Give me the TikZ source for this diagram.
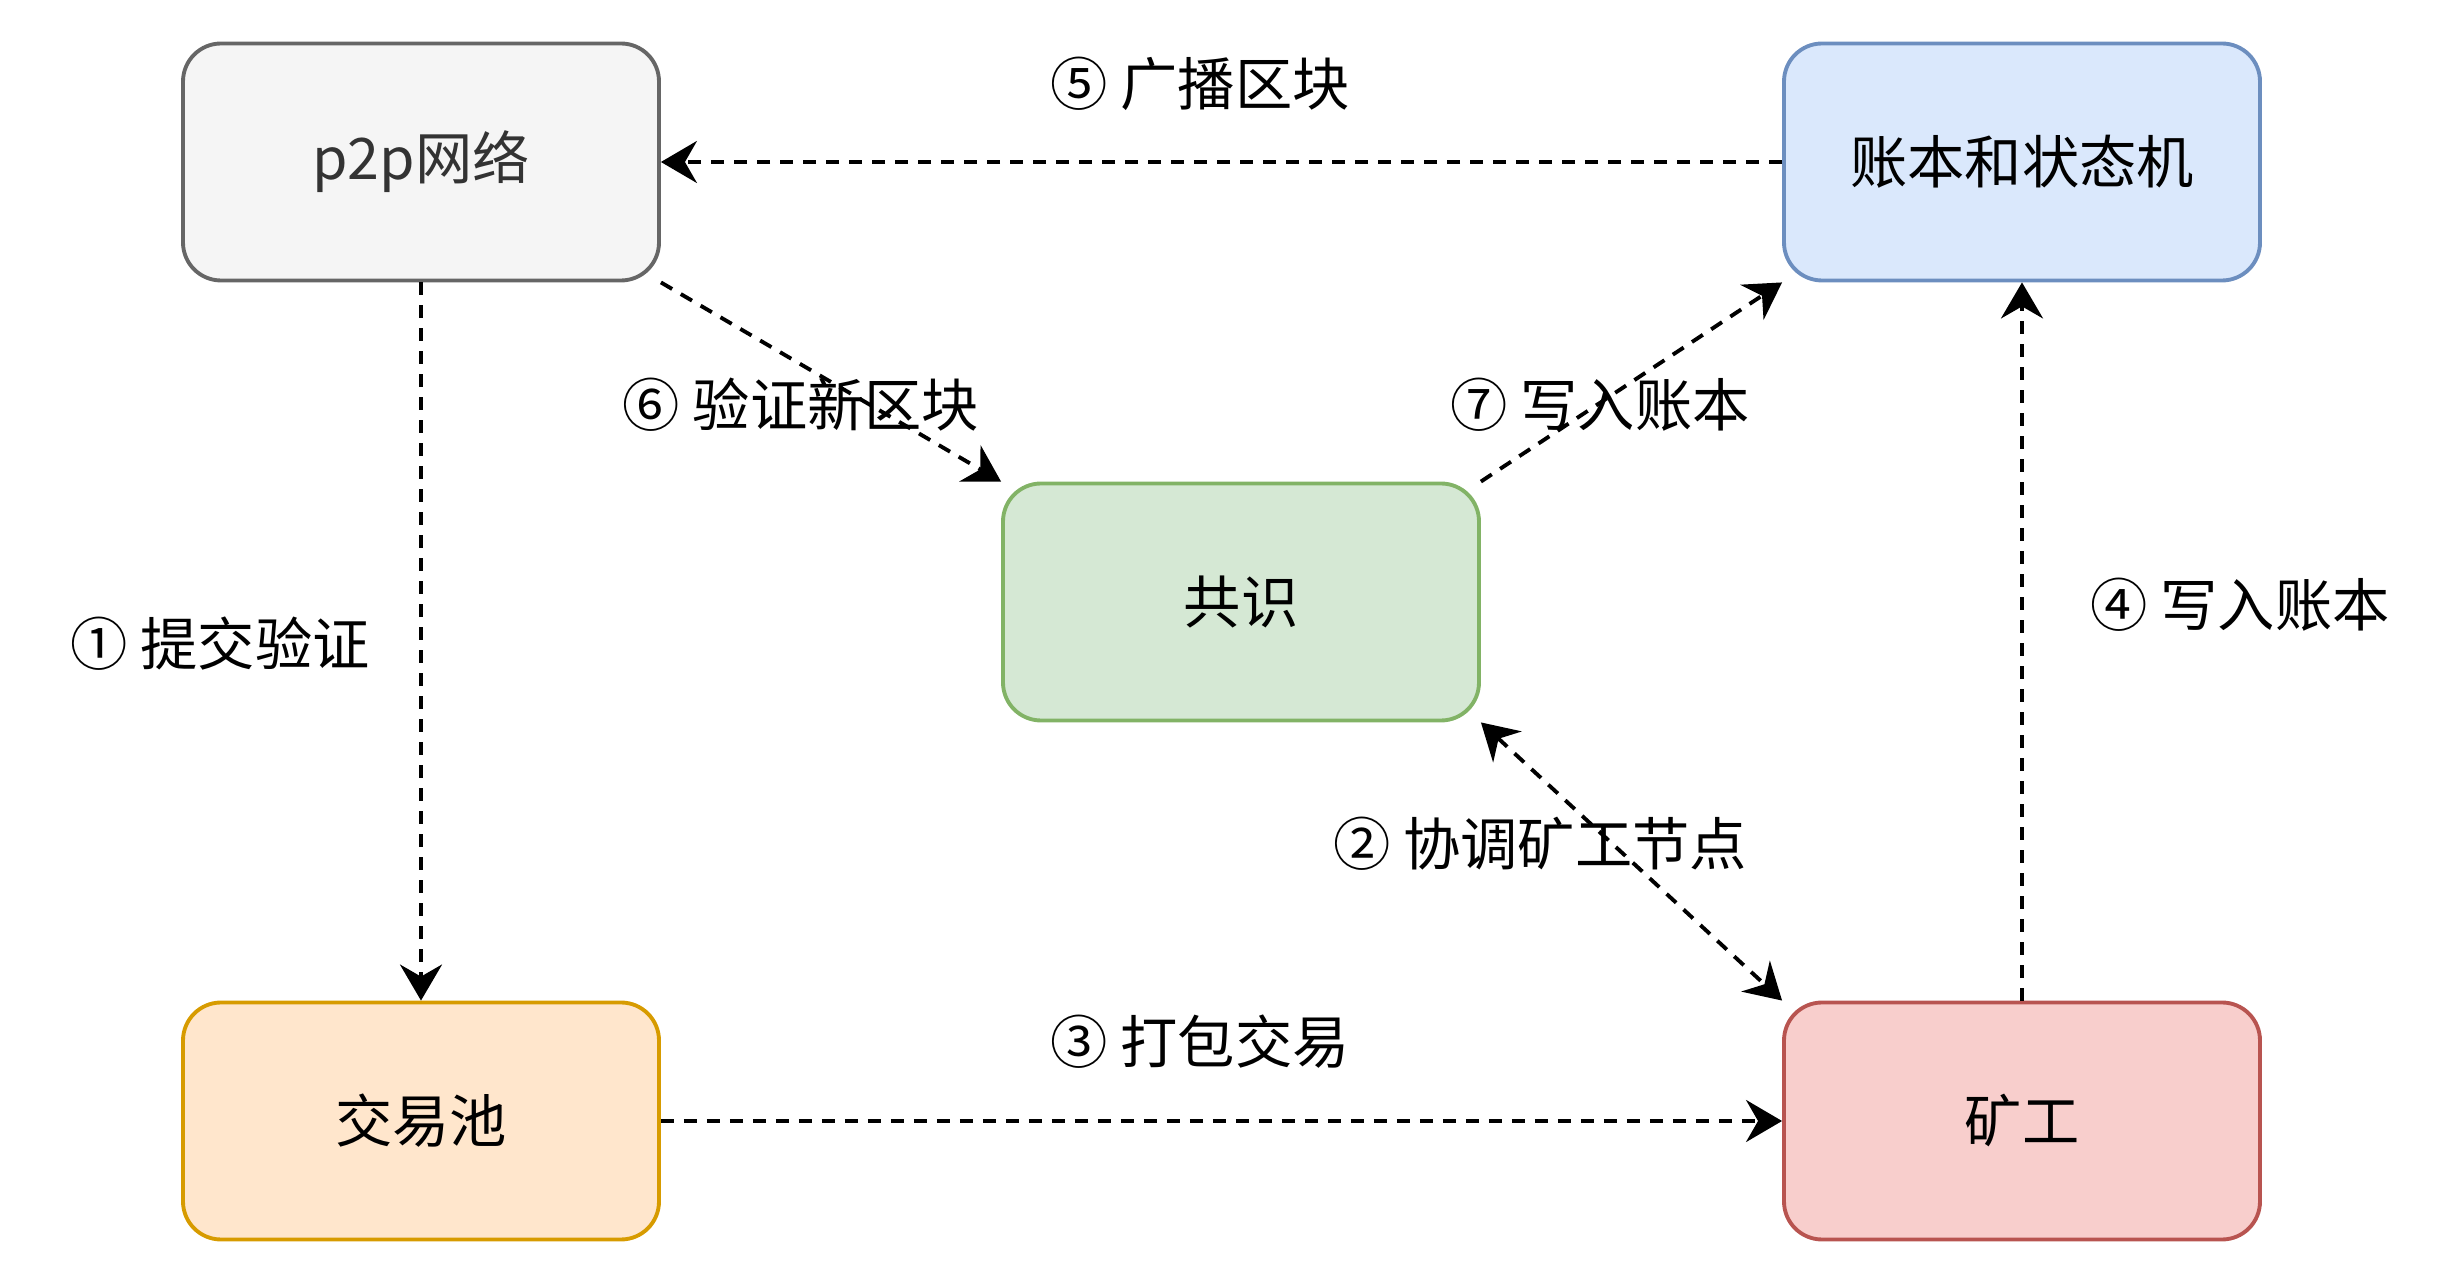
\documentclass[tikz,border=0pt]{standalone}
\usepackage{fontspec}
\setmainfont{Noto Sans CJK SC}
\usetikzlibrary{arrows.meta}
\definecolor{grayfill}{HTML}{F5F5F5}
\definecolor{grayline}{HTML}{666666}
\definecolor{graytext}{HTML}{333333}
\definecolor{bluefill}{HTML}{DAE8FC}
\definecolor{blueline}{HTML}{6C8EBF}
\definecolor{greenfill}{HTML}{D5E8D4}
\definecolor{greenline}{HTML}{82B366}
\definecolor{orangefill}{HTML}{FFE6CC}
\definecolor{orangeline}{HTML}{D79B00}
\definecolor{redfill}{HTML}{F8CECC}
\definecolor{redline}{HTML}{B85450}
\tikzset{
  box/.style={rectangle, rounded corners=0.38cm, line width=1.1pt,
    minimum width=4.76cm, minimum height=2.37cm, inner sep=0pt,
    font=\fontsize{16.3}{19}\selectfont},
  flow/.style={line width=1.1pt, dash pattern=on 0.13cm off 0.10cm,
    -{Stealth[length=3.6mm, width=4.2mm, inset=1.2mm]}},
  lbl/.style={font=\fontsize{16.3}{19}\selectfont, inner sep=0pt}
}
\begin{document}
\begin{tikzpicture}
  \useasboundingbox (0,0) rectangle (24.64,12.84);
  % the five parts
  \node[box, fill=grayfill, draw=grayline, text=graytext] (net) at (4.21,11.22) {p2p网络};
  \node[box, fill=bluefill, draw=blueline] (ledger) at (20.22,11.22) {账本和状态机};
  \node[box, fill=greenfill, draw=greenline] (cons) at (12.41,6.82) {共识};
  \node[box, fill=orangefill, draw=orangeline] (pool) at (4.21,1.63) {交易池};
  \node[box, fill=redfill, draw=redline] (miner) at (20.22,1.63) {矿工};
  % the flows
  \draw[flow] (net.south) -- (pool.north);
  \draw[flow, {Stealth[length=3.6mm, width=4.2mm, inset=1.2mm]}-{Stealth[length=3.6mm, width=4.2mm, inset=1.2mm]}] (cons.south east) -- (miner.north west);
  \draw[flow] (pool.east) -- (miner.west);
  \draw[flow] (miner.north) -- (ledger.south);
  \draw[flow] (ledger.west) -- (net.east);
  \draw[flow] (net.south east) -- (cons.north west);
  \draw[flow] (cons.north east) -- (ledger.south west);
  % step labels
  \node[lbl] (s1) at (2.20,6.40) {① 提交验证};
  \node[lbl] (s2) at (15.40,4.40) {② 协调矿工节点};
  \node[lbl] (s3) at (12.00,2.42) {③ 打包交易};
  \node[lbl] (s4) at (22.40,6.79) {④ 写入账本};
  \node[lbl] (s5) at (12.00,12.00) {⑤ 广播区块};
  \node[lbl] (s6) at (8.01,8.79) {⑥ 验证新区块};
  \node[lbl] (s7) at (16.00,8.79) {⑦ 写入账本};
\end{tikzpicture}
\end{document}
